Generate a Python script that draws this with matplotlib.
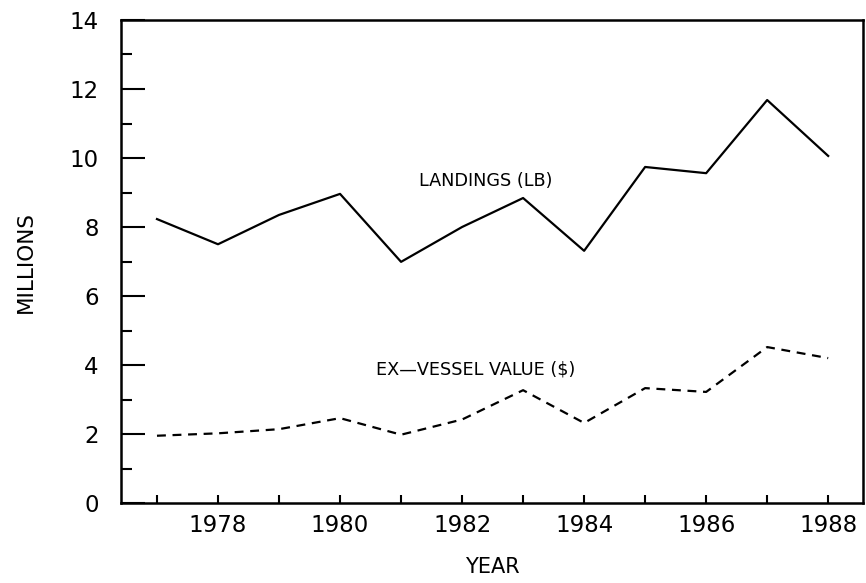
import numpy as np
import matplotlib.pyplot as plt
from matplotlib.ticker import MultipleLocator

years = [1977, 1978, 1979, 1980, 1981, 1982, 1983, 1984, 1985, 1986, 1987, 1988]
landings = [8.23, 7.50, 8.35, 8.96, 6.99, 8.00, 8.84, 7.31, 9.74, 9.56, 11.68, 10.06]
value = [1.95, 2.02, 2.14, 2.46, 1.98, 2.42, 3.27, 2.32, 3.33, 3.22, 4.52, 4.20]

fig = plt.figure(figsize=(8.66, 5.83), dpi=100)
ax = fig.add_axes([0.1397, 0.1372, 0.8568, 0.8285])

ax.plot(years, landings, color="black", lw=1.6)
ax.plot(years, value, color="black", lw=1.6, dashes=(4, 3))

ax.text(1982.39, 9.33, "LANDINGS (LB)", fontsize=12.7, ha="center", va="center")
ax.text(1982.23, 3.86, "EX\u2014VESSEL VALUE ($)", fontsize=12.7, ha="center", va="center")

ax.set_xlim(1976.41, 1988.57)
ax.set_ylim(0, 14)

ax.xaxis.set_major_locator(MultipleLocator(2))
ax.xaxis.set_minor_locator(MultipleLocator(1))
ax.yaxis.set_major_locator(MultipleLocator(2))
ax.yaxis.set_minor_locator(MultipleLocator(1))

ax.tick_params(axis="x", which="both", direction="in", length=6, width=1.5,
               labelsize=16.5, pad=8)
ax.tick_params(axis="y", which="major", direction="in", length=17, width=1.5,
               labelsize=16.5, pad=16)
ax.tick_params(axis="y", which="minor", direction="in", length=8, width=1.5)

for s in ax.spines.values():
    s.set_linewidth(1.8)

ax.set_xlabel("YEAR", fontsize=15, labelpad=14)
ax.set_ylabel("MILLIONS", fontsize=15.5, labelpad=24)

fig.savefig("out.png", dpi=100)
